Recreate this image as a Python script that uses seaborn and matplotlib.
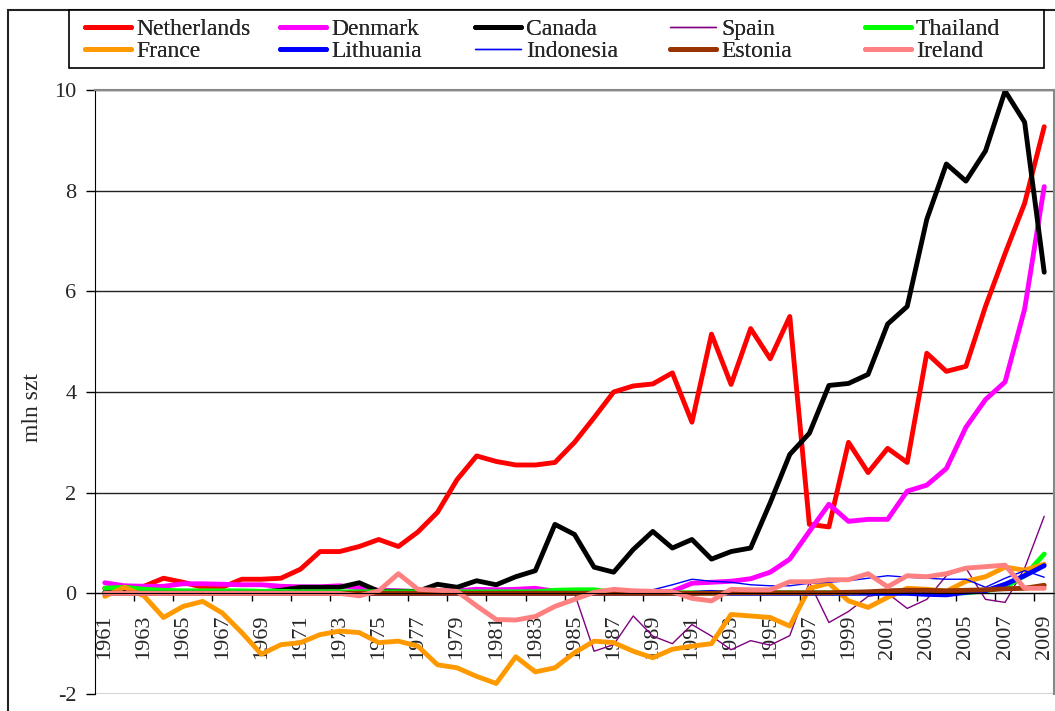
import numpy as np
import pandas as pd
import matplotlib
matplotlib.use("Agg")
import matplotlib.pyplot as plt
from matplotlib.patches import Rectangle
import seaborn as sns

years = list(range(1961, 2010))

netherlands = [0.10, 0.12, 0.14, 0.30, 0.22, 0.12, 0.12, 0.28, 0.28, 0.30,
               0.48, 0.83, 0.83, 0.93, 1.07, 0.93, 1.22, 1.61, 2.26, 2.73,
               2.62, 2.55, 2.55, 2.60, 3.00, 3.49, 4.00, 4.12, 4.16, 4.38,
               3.40, 5.15, 4.15, 5.26, 4.66, 5.50, 1.37, 1.32, 3.00, 2.40,
               2.88, 2.60, 4.77, 4.41, 4.51, 5.70, 6.75, 7.75, 9.27]
denmark = [0.21, 0.15, 0.14, 0.14, 0.19, 0.19, 0.18, 0.17, 0.17, 0.14,
           0.13, 0.13, 0.15, 0.11, 0.06, 0.05, 0.03, 0.05, 0.05, 0.08,
           0.07, 0.08, 0.10, 0.04, 0.03, 0.02, 0.03, 0.02, 0.02, 0.04,
           0.20, 0.22, 0.24, 0.29, 0.42, 0.68, 1.23, 1.77, 1.43, 1.47,
           1.47, 2.03, 2.15, 2.48, 3.30, 3.85, 4.20, 5.65, 8.08]
canada = [0.02, 0.02, 0.02, 0.02, 0.02, 0.02, 0.02, 0.03, 0.03, 0.06,
          0.12, 0.12, 0.12, 0.21, 0.04, 0.04, 0.04, 0.18, 0.12, 0.25,
          0.17, 0.33, 0.45, 1.37, 1.17, 0.52, 0.42, 0.87, 1.23, 0.90,
          1.07, 0.68, 0.83, 0.90, 1.80, 2.76, 3.18, 4.13, 4.17, 4.35,
          5.35, 5.70, 7.43, 8.53, 8.19, 8.79, 9.98, 9.36, 6.38]
spain = [0.0] * 25 + [-1.15, -1.02, -0.45, -0.85, -1.00, -0.62, -0.85, -1.12,
                      -0.94, -1.03, -0.84, 0.22, -0.58, -0.36, -0.06, 0.00,
                      -0.30, -0.12, 0.35, 0.50, -0.12, -0.18, 0.50, 1.53]
thailand = [0.10, 0.12, 0.08, 0.06, 0.05, 0.05, 0.05, 0.05, 0.04, 0.04] \
    + [0.03] * 13 + [0.06, 0.07, 0.07, 0.02] + [0.01] * 18 \
    + [0.05, 0.12, 0.35, 0.78]
france = [-0.06, 0.12, -0.05, -0.48, -0.26, -0.16, -0.39, -0.78, -1.21, -1.02,
          -0.98, -0.82, -0.75, -0.78, -0.98, -0.95, -1.05, -1.42, -1.48, -1.65,
          -1.79, -1.26, -1.56, -1.48, -1.18, -0.95, -0.98, -1.15, -1.28, -1.11,
          -1.05, -1.00, -0.42, -0.45, -0.48, -0.65, 0.10, 0.20, -0.15, -0.28,
          -0.08, 0.10, 0.08, 0.04, 0.24, 0.33, 0.52, 0.46, 0.58]
lithuania = [0.0] * 31 + [0.02, 0.0, 0.0, 0.0, 0.0, 0.0, 0.0, 0.0, 0.0, 0.0,
                          0.0, -0.02, -0.03, 0.02, 0.05, 0.18, 0.35, 0.55]
indonesia = [0.02] * 27 + [0.04, 0.07, 0.17, 0.28, 0.24, 0.22, 0.17, 0.15,
                           0.15, 0.20, 0.22, 0.25, 0.30, 0.35, 0.32, 0.30,
                           0.28, 0.28, 0.12, 0.30, 0.45, 0.32]
estonia = [0.0] * 31 + [0.0, 0.01, 0.01, 0.01, 0.01, 0.01, 0.01, 0.02, 0.03,
                        0.05, 0.06, 0.06, 0.05, 0.06, 0.07, 0.09, 0.10, 0.16]
ireland = [0.0] * 13 + [-0.05, 0.05, 0.39, 0.08, 0.06, 0.04, -0.25, -0.52,
                        -0.53, -0.46, -0.26, -0.12, 0.02, 0.08, 0.05, 0.04,
                        0.03, -0.10, -0.15, 0.08, 0.07, 0.07, 0.23, 0.23, 0.27,
                        0.27, 0.39, 0.13, 0.35, 0.33, 0.39, 0.50, 0.53, 0.56,
                        0.10, 0.10]

countries = ["Netherlands", "Denmark", "Canada", "Spain", "Thailand",
             "France", "Lithuania", "Indonesia", "Estonia", "Ireland"]
values = [netherlands, denmark, canada, spain, thailand,
          france, lithuania, indonesia, estonia, ireland]
colors = ["#FF0000", "#FF00FF", "#000000", "#800080", "#00FF00",
          "#FF9900", "#0000FF", "#0000FF", "#993300", "#FF8080"]
widths = [3.5, 3.5, 3.5, 1.0, 3.5, 3.5, 3.5, 1.0, 3.5, 3.5]

df = pd.concat([pd.DataFrame({"year": years, "value": v, "country": c})
                for c, v in zip(countries, values)], ignore_index=True)

sns.set_style("white")
plt.rcParams["font.family"] = ["Liberation Serif", "DejaVu Serif"]
plt.rcParams["axes.unicode_minus"] = False

W, H = 1055, 711
fig = plt.figure(figsize=(W / 100, H / 100), dpi=100)
ax = fig.add_axes([95 / W, 17 / H, 959 / W, 604 / H])

# ── outer chart frame (only left and top edges fall inside the picture) ──
fig.patches.append(Rectangle((8 / W, -0.2), 1.2, 1.2 - 10 / H,
                             transform=fig.transFigure, fill=False,
                             edgecolor="#222222", linewidth=1.5))

handles = {}
for c, col, lw in zip(countries, colors, widths):
    sns.lineplot(data=df[df["country"] == c], x="year", y="value",
                 color=col, linewidth=lw, ax=ax, label=c, legend=False)
    handles[c] = ax.lines[-1]

ax.set_xlim(1960.5, 2009.5)
ax.set_ylim(-2, 10)
ax.set_yticks(range(-2, 11, 2))
ax.yaxis.grid(True, color="#222222", linewidth=1.0)
ax.set_axisbelow(True)

# ── x axis crosses at zero, labels every other year ──
ax.spines["bottom"].set_position(("data", 0))
ax.spines["bottom"].set_color("black")
ax.spines["left"].set_color("black")
for s in ["top", "right"]:
    ax.spines[s].set_color("#888888")
    ax.spines[s].set_linewidth(1.5)
ax.set_xticks(years[::2])
ax.set_xticklabels([str(y) for y in years[::2]], rotation=90, fontsize=16)
ax.set_xticks(np.arange(1962.5, 2010, 2), minor=True)
ax.tick_params(axis="x", which="major", length=0, pad=15)
ax.tick_params(axis="x", which="minor", length=6, width=1, direction="out",
               color="black", bottom=True)
ax.tick_params(axis="y", length=6.5, width=1, direction="out", color="black",
               left=True, labelsize=16, pad=7)
ax.set_xlabel("")
ax.set_ylabel("mln szt", fontsize=17)
ax.yaxis.set_label_coords(-0.054, 0.475)

# ── legend: 5 equal columns in one box ──
fig.patches.append(Rectangle((69 / W, 1 - 68 / H), 975 / W, 58 / H,
                             transform=fig.transFigure, facecolor="white",
                             edgecolor="black", linewidth=1.2))
columns = [("Netherlands", "France"), ("Denmark", "Lithuania"),
           ("Canada", "Indonesia"), ("Spain", "Estonia"),
           ("Thailand", "Ireland")]
for i, pair in enumerate(columns):
    leg = fig.legend([handles[c] for c in pair], pair, loc="upper left",
                     bbox_to_anchor=((80 + 195 * i) / W, 1 - 14 / H),
                     fontsize=17, frameon=False, handlelength=1.95,
                     handletextpad=0.22, borderaxespad=0, borderpad=0.2,
                     labelspacing=0.0)
    fig.add_artist(leg)

fig.savefig("out.png", dpi=100)
plt.close()
